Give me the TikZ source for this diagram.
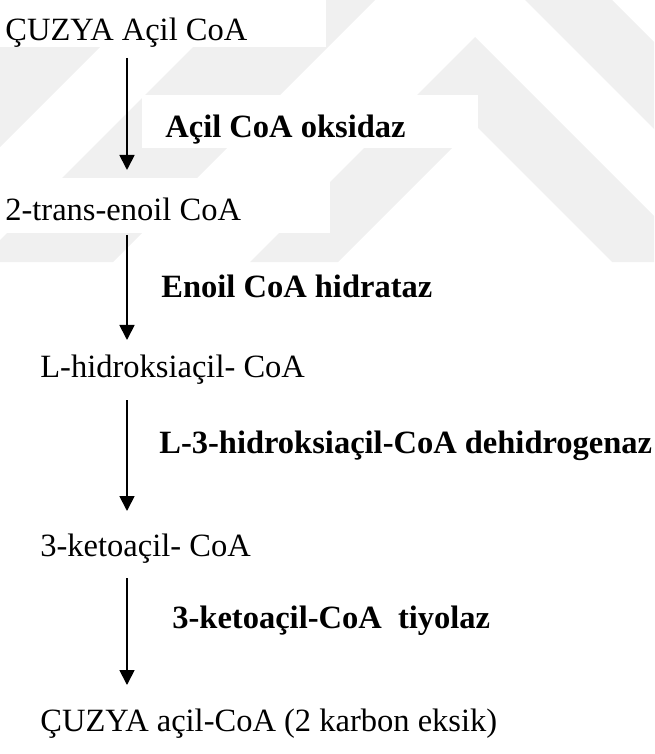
\documentclass[tikz,border=0pt]{standalone}
\usepackage{fontspec}
\setmainfont{Liberation Serif}
\usetikzlibrary{arrows.meta,calc}

\begin{document}
\begin{tikzpicture}[
  >={Triangle[width=.3cm,length=.3cm]},
  metab/.style={anchor=base west,inner sep=0pt,font=\fontsize{18.5}{22}\selectfont},
  enzyme/.style={metab,font=\fontsize{18.5}{22}\selectfont\bfseries},
  flow/.style={->,line width=1pt,black},
  mark band/.style={fill=black!6},
  paper/.style={fill=white}
]
  \useasboundingbox (0,0) rectangle (13.08,-15.08);

  % faint watermark behind the upper part, in pixel units
  \begin{scope}[x=0.02cm,y=-0.02cm]
    \clip (0,0) rectangle (654,262);
    \fill[mark band] (45,0) -- (147,0) -- (-115,262) -- (-217,262) -- cycle;
    \fill[mark band] (240,0) -- (375,0) -- (113,262) -- (-22,262) -- cycle;
    \fill[mark band] (475,37) -- (250,262) -- (338,262) -- (475,125) -- (612,262) -- (700,262) -- cycle;
    \fill[mark band] (525,0) -- (612,0) -- (874,262) -- (787,262) -- cycle;
    \fill[paper] (0,0) rectangle (326,47);
    \fill[paper] (142,95) rectangle (478,148);
    \fill[paper] (0,178) rectangle (330,233);
  \end{scope}

  \coordinate (axis) at (2.54,0);

  % metabolites
  \node[metab] (acyl) at (0.10,-0.82) {ÇUZYA Açil CoA};
  \node[metab] (enoyl) at (0.10,-4.42) {2-trans-enoil CoA};
  \node[metab] (hydroxy) at (0.80,-7.54) {L-hidroksiaçil- CoA};
  \node[metab] (keto) at (0.80,-11.12) {3-ketoaçil- CoA};
  \node[metab] (short) at (0.80,-14.62) {ÇUZYA açil-CoA (2 karbon eksik)};

  % enzymes
  \node[enzyme] (oxid) at (3.30,-2.76) {Açil CoA oksidaz};
  \node[enzyme] (hydrat) at (3.22,-5.96) {Enoil CoA hidrataz};
  \node[enzyme] (dehyd) at (3.18,-9.06) {L-3-hidroksiaçil-CoA dehidrogenaz};
  \node[enzyme] (thiol) at (3.44,-12.56) {3-ketoaçil-CoA\ \ tiyolaz};

  \draw[flow] ($(acyl.base -| axis)+(0,-.34)$) -- ($(enoyl.base -| axis)+(0,1.02)$);
  \draw[flow] ($(enoyl.base -| axis)+(0,-.28)$) -- ($(hydroxy.base -| axis)+(0,.74)$);
  \draw[flow] ($(hydroxy.base -| axis)+(0,-.46)$) -- ($(keto.base -| axis)+(0,.90)$);
  \draw[flow] ($(keto.base -| axis)+(0,-.44)$) -- ($(short.base -| axis)+(0,.92)$);
\end{tikzpicture}
\end{document}
